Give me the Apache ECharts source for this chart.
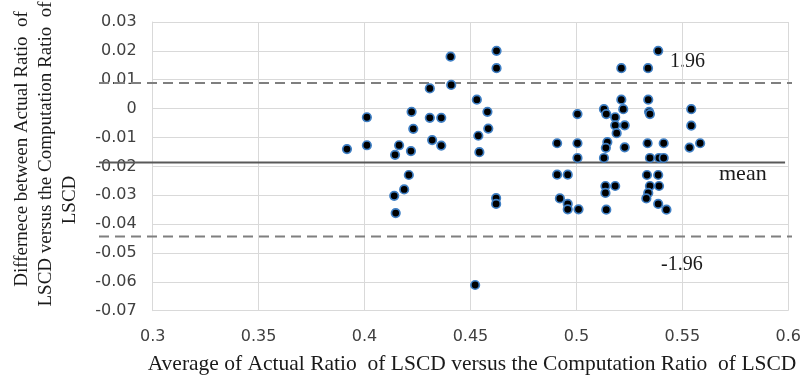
<!DOCTYPE html>
<html>
<head>
<meta charset="utf-8">
<script src="https://cdn.jsdelivr.net/npm/echarts@6/dist/echarts.min.js"></script>
<style>html,body{margin:0;padding:0;background:#fff}#c{width:804px;height:377px}</style>
</head>
<body>
<div id="c"></div>
<script>
// Average (x) values
const avgValues = [
  0.3917, 0.4011, 0.4011, 0.4144, 0.4163, 0.4222, 0.4230, 0.4219, 0.4209, 0.4187,
  0.4140, 0.4147, 0.4308, 0.4308, 0.4362, 0.4319, 0.4362, 0.4406, 0.4409, 0.4530,
  0.4580, 0.4584, 0.4537, 0.4542, 0.4522, 0.4623, 0.4623, 0.4621, 0.4621,
  0.4909, 0.4909, 0.4959, 0.4922, 0.4959, 0.4959, 0.5005, 0.5005, 0.5005, 0.5010,
  0.5130, 0.5141, 0.5183, 0.5183, 0.5228, 0.5190, 0.5146, 0.5139, 0.5130, 0.5228,
  0.5212, 0.5221, 0.5212, 0.5137, 0.5137, 0.5183, 0.5141,
  0.5386, 0.5338, 0.5339, 0.5343, 0.5347, 0.5336, 0.5412, 0.5347, 0.5390, 0.5412,
  0.5333, 0.5386, 0.5347, 0.5390, 0.5339, 0.5330, 0.5386, 0.5425,
  0.5542, 0.5542, 0.5534, 0.5584
];
// Difference (y) values
const diffValues = [
  -0.0140, -0.0127, -0.0030, -0.0160, -0.0127, -0.0011, -0.0070, -0.0147, -0.0230, -0.0280,
  -0.0302, -0.0362, 0.0070, -0.0032, -0.0032, -0.0109, -0.0128, 0.0180, 0.0082, 0.0031,
  -0.0011, -0.0069, -0.0094, -0.0151, -0.0611, 0.0200, 0.0140, -0.0310, -0.0330,
  -0.0120, -0.0229, -0.0229, -0.0311, -0.0330, -0.0349, -0.0019, -0.0120, -0.0171, -0.0349,
  -0.0002, -0.0019, -0.0030, -0.0058, -0.0058, -0.0085, -0.0116, -0.0136, -0.0171, -0.0134,
  0.0031, -0.0002, 0.0140, -0.0268, -0.0292, -0.0268, -0.0350,
  0.0200, 0.0140, 0.0031, -0.0011, -0.0019, -0.0120, -0.0120, -0.0171, -0.0171, -0.0171,
  -0.0230, -0.0230, -0.0268, -0.0268, -0.0292, -0.0311, -0.0330, -0.0350,
  -0.0002, -0.0059, -0.0135, -0.0120
];
// Bland-Altman reference lines
const upperLimit = 0.0089;
const meanDiff = -0.0187;
const lowerLimit = -0.0443;
const refLabels = ['1.96', 'mean', '-1.96'];
const xTitle = 'Average of Actual Ratio  of LSCD versus the Computation Ratio  of LSCD';
const yTitleLines = ['Differnece between Actual Ratio  of', 'LSCD versus the Computation Ratio  of', 'LSCD'];

const points = avgValues.map((v, i) => [v, diffValues[i]]);

const chart = echarts.init(document.getElementById('c'), null, {renderer: 'canvas'});
const serif = '"Liberation Serif", "DejaVu Serif", serif';
const tickFont = {fontFamily: '"DejaVu Sans", sans-serif', fontSize: 16, color: '#404040'};

chart.setOption({
  animation: false,
  backgroundColor: '#fff',
  grid: [
    {left: 152.7, right: 11.3, top: 22, bottom: 66.3, containLabel: false},
    {left: 99, right: 12, top: 22, bottom: 66.3, containLabel: false}
  ],
  xAxis: [
    {type: 'value', gridIndex: 0, min: 0.3, max: 0.6, interval: 0.05,
     axisLine: {show: true, lineStyle: {color: '#d9d9d9'}}, axisTick: {show: false},
     splitLine: {show: true, lineStyle: {color: '#d9d9d9', width: 1}},
     axisLabel: Object.assign({margin: 18, formatter: v => String(+v.toFixed(2))}, tickFont)},
    {type: 'value', gridIndex: 1, min: 0, max: 1, show: false}
  ],
  yAxis: [
    {type: 'value', gridIndex: 0, min: -0.07, max: 0.03, interval: 0.01,
     axisLine: {show: true, lineStyle: {color: '#d9d9d9'}}, axisTick: {show: false},
     splitLine: {show: true, lineStyle: {color: '#d9d9d9', width: 1}},
     axisLabel: Object.assign({margin: 16, formatter: v => String(+v.toFixed(2))}, tickFont)},
    {type: 'value', gridIndex: 1, min: -0.07, max: 0.03, show: false}
  ],
  series: [
    {type: 'line', xAxisIndex: 1, yAxisIndex: 1, data: [[0, upperLimit], [1, upperLimit]],
     symbol: 'none', lineStyle: {color: '#7f7f7f', width: 2, type: [10, 6]}, silent: true, z: 1},
    {type: 'line', xAxisIndex: 1, yAxisIndex: 1, data: [[0, meanDiff], [0.99, meanDiff]],
     symbol: 'none', lineStyle: {color: '#595959', width: 2}, silent: true, z: 1},
    {type: 'line', xAxisIndex: 1, yAxisIndex: 1, data: [[0, lowerLimit], [1, lowerLimit]],
     symbol: 'none', lineStyle: {color: '#7f7f7f', width: 2, type: [10, 6]}, silent: true, z: 1},
    {type: 'scatter', xAxisIndex: 0, yAxisIndex: 0, data: points, symbolSize: 8.5,
     itemStyle: {color: '#000', borderColor: '#3f7fc4', borderWidth: 1.7, opacity: 1}, z: 3}
  ],
  graphic: [
    {type: 'text', left: 670, top: 52, style: {text: refLabels[0], font: '20px ' + serif, fill: '#1a1a1a'}},
    {type: 'text', left: 719, top: 163, style: {text: refLabels[1], font: '22px ' + serif, fill: '#1a1a1a'}},
    {type: 'text', left: 661, top: 255, style: {text: refLabels[2], font: '20px ' + serif, fill: '#1a1a1a'}},
    {type: 'text', x: 472, y: 364, style: {text: xTitle, font: '21.5px ' + serif, fill: '#1a1a1a', textAlign: 'center', textVerticalAlign: 'middle'}},
    {type: 'text', x: 22, y: 149, rotation: Math.PI / 2, style: {text: yTitleLines[0], font: '19px ' + serif, fill: '#1a1a1a', textAlign: 'center', textVerticalAlign: 'middle'}},
    {type: 'text', x: 46, y: 154, rotation: Math.PI / 2, style: {text: yTitleLines[1], font: '19px ' + serif, fill: '#1a1a1a', textAlign: 'center', textVerticalAlign: 'middle'}},
    {type: 'text', x: 70, y: 200, rotation: Math.PI / 2, style: {text: yTitleLines[2], font: '19px ' + serif, fill: '#1a1a1a', textAlign: 'center', textVerticalAlign: 'middle'}}
  ]
});
</script>
</body>
</html>
